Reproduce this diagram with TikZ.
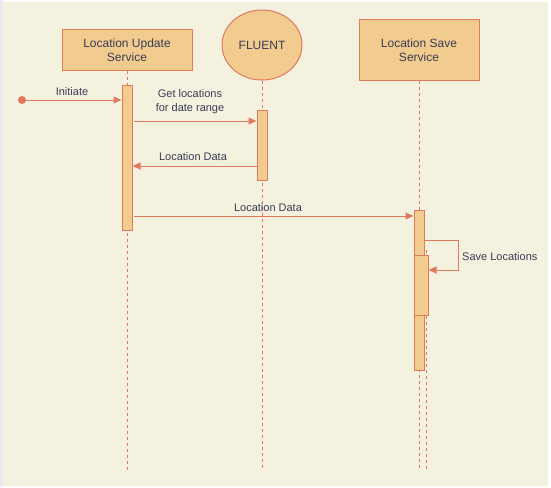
\documentclass[tikz,border=0pt]{standalone}
\usepackage{fontspec}
\setmainfont{Liberation Sans}
\usetikzlibrary{positioning,arrows.meta,shapes.geometric}
\definecolor{sandbg}{HTML}{F4F1DE}
\definecolor{sandfill}{HTML}{F2CC8F}
\definecolor{sandline}{HTML}{E07A5F}
\definecolor{sandtext}{HTML}{393C56}
\definecolor{pageedge}{HTML}{E8EBF2}

\begin{document}
\begin{tikzpicture}[
        x=1pt, y=-1pt,
        actor/.style={draw=sandline, fill=sandfill, line width=1pt, text=sandtext, align=center,
            font=\fontsize{12}{14}\selectfont, inner sep=0pt},
        lifeline/.style={draw=sandline, line width=1pt, dash pattern=on 3pt off 3pt},
        actbar/.style={draw=sandline, fill=sandfill, line width=1pt, minimum width=10pt,
            anchor=north, inner sep=0pt},
        msg/.style={draw=sandline, line width=1pt, -{Triangle[length=8pt,width=7pt]}},
        msglabel/.style={text=sandtext, align=center, font=\fontsize{11}{14}\selectfont, inner sep=0pt}
    ]
    % Page
    \fill[white] (0,0) rectangle (551,487);
    \fill[pageedge] (0,0) rectangle (3,487);
    \fill[sandbg] (3,2) rectangle (548,486);
    \useasboundingbox (0,0) rectangle (551,487);

    % Actors
    \node[actor, minimum width=130pt, minimum height=40pt] (lus) at (127,50) {Location Update\\Service};
    \node[actor, ellipse, minimum width=80pt, minimum height=70pt] (fluent) at (262,45) {FLUENT};
    \node[actor, minimum width=120pt, minimum height=60pt] (lss) at (419,50) {Location Save\\Service};

    % Message levels
    \coordinate (bottom) at (0,470);
    \coordinate (initlvl) at (0,100);
    \coordinate (getlvl) at (0,121);
    \coordinate (retlvl) at (0,166);
    \coordinate (fwdlvl) at (0,216);
    \coordinate (selfout) at (0,240);
    \coordinate (selfin) at (0,270);
    \coordinate (selfturn) at (458,0);
    \coordinate (lss2top) at (426,250);

    % Lifelines
    \draw[lifeline] (lus.south) -- (lus.south |- bottom);
    \draw[lifeline] (fluent.south) -- (fluent.south |- bottom);
    \draw[lifeline] (lss.south) -- (lss.south |- bottom);
    \draw[lifeline] (lss2top) -- (lss2top |- bottom);

    % Activations
    \node[actbar, minimum height=145pt] (lusbar) at (127,85) {};
    \node[actbar, minimum height=70pt] (fluentbar) at (262,110) {};
    \node[actbar, minimum height=160pt] (lssbar) at (419,210) {};
    \node[actbar, minimum width=14pt, minimum height=60pt] (lssbar2) at (421,255) {};

    % Messages
    \node[circle, fill=sandline, minimum size=8pt, inner sep=0pt] (start) at (22,100) {};
    \draw[msg] (start) -- (lusbar.west |- initlvl);
    \node[msglabel] (initlbl) at (72,92) {Initiate};

    \draw[msg, shorten <=1.5pt] (lusbar.east |- getlvl) -- (fluentbar.west |- getlvl);
    \node[msglabel] (getlbl) at (190,102) {Get locations\\for date range};

    \draw[msg] (fluentbar.west |- retlvl) -- (lusbar.east |- retlvl);
    \node[msglabel] (retlbl) at (193,157) {Location Data};

    \draw[msg, shorten <=1.5pt] (lusbar.east |- fwdlvl) -- (lssbar.west |- fwdlvl);
    \node[msglabel] (fwdlbl) at (268,208) {Location Data};

    \draw[msg] (lssbar.east |- selfout) -- (selfturn |- selfout) -- (selfturn |- selfin) -- (lssbar2.east |- selfin);
    \node[msglabel, anchor=west] (savelbl) at (462,257) {Save Locations};
\end{tikzpicture}
\end{document}
